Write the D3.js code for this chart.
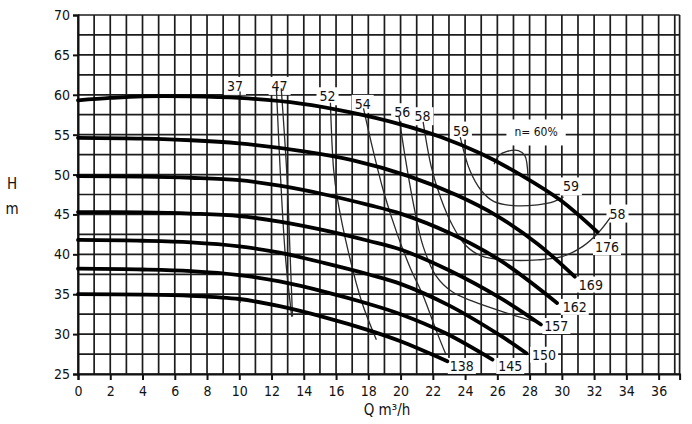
<!DOCTYPE html>
<html><head><meta charset="utf-8">
<script src="https://cdn.jsdelivr.net/npm/d3@7"></script>
<style>
html,body{margin:0;padding:0;background:#fff;}
svg{display:block;}
text{font-family:"DejaVu Sans Condensed","DejaVu Sans",sans-serif;fill:#111;}
</style></head><body>
<svg id="chart" width="692" height="424"></svg>
<script>
// ---- axis ticks ----
const qTicks = [0,2,4,6,8,10,12,14,16,18,20,22,24,26,28,30,32,34,36];
const hTicks = [25,30,35,40,45,50,55,60,65,70];

// ---- impeller diameter curves (Q m3/h, H m) ----
const diameters = ["176","169","162","157","150","145","138"];
const q176 = [0,2,4,7,10,13.8,16.9,20,22.5,25,27.5,29.9,32.2];
const h176 = [59.3,59.6,59.8,59.8,59.6,58.9,57.8,56.3,54.7,52.6,49.9,46.8,42.8];
const q169 = [0,4,7,10,14,17,20.5,23.5,26,28.5,30.8];
const h169 = [54.6,54.5,54.3,53.9,52.9,51.8,49.8,47.4,44.8,41.3,37.2];
const q162 = [0,4,7,10,12.5,15.3,18,20,23,26.2,29.7];
const h162 = [49.8,49.75,49.6,49.3,48.6,47.5,46.2,45.1,42.7,39.2,33.9];
const q157 = [0,4,7,10,12.5,15.3,18,20,23,26.2,28.7];
const h157 = [45.3,45.25,45.1,44.8,44.1,43.0,41.7,40.6,38.0,34.5,31.2];
const q150 = [0,4,7,10,12.5,15.3,18,20,23,26.2,27.8];
const h150 = [41.8,41.7,41.5,41.0,40.2,38.9,37.5,36.3,33.6,29.8,27.6];
const q145 = [0,4,7,10,12.5,15.3,18,20,22.8,25.7];
const h145 = [38.2,38.1,37.9,37.4,36.6,35.3,33.8,32.5,30.1,26.8];
const q138 = [0,4,7,10,12.5,15.3,18,20,22.9];
const h138 = [35.0,34.95,34.8,34.4,33.5,32.1,30.5,29.1,26.6];
const diameterQ = [q176,q169,q162,q157,q150,q145,q138];
const diameterH = [h176,h169,h162,h157,h150,h145,h138];
const diameterLabelQ = [32.8,31.8,30.8,29.66,28.9,26.8,23.8];
const diameterLabelH = [40.9,36.2,33.4,31.0,27.4,26.0,26.0];

// ---- efficiency contours ----
const qE37 = [10.05,10.05,10.05];            const hE37 = [60.4,47,33.9];
const qE47a = [12.3,12.55,12.85,13.25];      const hE47a = [60.8,50,40,32.2];
const qE47b = [12.6,12.95,13.15,13.3];       const hE47b = [60.8,50,40,32.2];
const qE52 = [15.65,15.85,16.1,16.8,17.6,18.5];  const hE52 = [59.0,50.6,46.8,40,34,29.3];
const qE54 = [17.7,18.3,19.0,19.8,20.6,21.4,22.2,22.8]; const hE54 = [58.3,53,47.5,42.5,38.3,34.8,30.5,27.5];
const qE56 = [19.9,20.3,20.8,21.4,22.2,23.2,24.5,26.5,28.6]; const hE56 = [57.3,52,46.3,41,37.3,35.3,34.1,32.7,31.4];
const qE58 = [21.4,21.9,22.5,23.2,24,25,26.5,28.5,30,31.3,32.3,33.0]; const hE58 = [56.6,51,47,43.7,41.2,39.8,39.3,39.3,39.7,41,42.8,44.6];
const qE59 = [23.7,24.3,25,25.8,27,28.5,29.5,30.1]; const hE59 = [54.7,50.5,48,46.6,46.1,46.2,46.6,47.2];
const qE60 = [25.8,26.1,26.6,27.3,27.7,27.9]; const hE60 = [51.3,52.4,52.9,53,52.4,49.6];
const effQ = [qE37,qE47a,qE47b,qE52,qE54,qE56,qE58,qE59,qE60];
const effH = [hE37,hE47a,hE47b,hE52,hE54,hE56,hE58,hE59,hE60];
const effLabels = ["37","47","52","54","56","58","59","n= 60%","59","58"];
const effLabelQ = [9.73,12.5,15.47,17.65,20.1,21.36,23.74,28.4,30.56,33.45];
const effLabelH = [61.1,61.1,59.8,58.85,57.8,57.3,55.5,55.3,48.5,45.1];

// ---- drawing ----
const svg = d3.select("#chart");
const x = d3.scaleLinear().domain([0, 37.3]).range([78, 679.6]);
const y = d3.scaleLinear().domain([25, 70]).range([374, 15]);

// grid
const grid = svg.append("g").attr("stroke","#1c1c1c").attr("stroke-width",1.7);
grid.selectAll("line.v").data(d3.range(0,38,1).concat([37.3])).join("line")
  .attr("x1",d=>x(d)).attr("x2",d=>x(d)).attr("y1",y(25)).attr("y2",y(70));
grid.selectAll("line.h").data(d3.range(25,70.1,2.5)).join("line")
  .attr("x1",x(0)).attr("x2",x(37.3)).attr("y1",d=>y(d)).attr("y2",d=>y(d));

// axes
const xAxis = svg.append("g").attr("transform",`translate(0,${y(25)})`)
  .call(d3.axisBottom(x).tickValues(qTicks).tickSize(6).tickPadding(6).tickFormat(d3.format("d")));
const yAxis = svg.append("g").attr("transform",`translate(${x(0)},0)`)
  .call(d3.axisLeft(y).tickValues(hTicks).tickSize(5).tickPadding(3).tickFormat(d3.format("d")));
[xAxis,yAxis].forEach(a=>{
  a.select(".domain").attr("stroke","#111").attr("stroke-width",2);
  a.selectAll(".tick line").attr("stroke","#111").attr("stroke-width",2);
  a.selectAll(".tick text").attr("font-size",14).attr("fill","#111")
   .attr("font-family",'"DejaVu Sans Condensed","DejaVu Sans",sans-serif');
});

// axis titles
svg.append("text").attr("x",12).attr("y",189).attr("text-anchor","middle").attr("font-size",15).text("H");
svg.append("text").attr("x",12).attr("y",214).attr("text-anchor","middle").attr("font-size",15).text("m");
svg.append("text").attr("x",387).attr("y",415).attr("text-anchor","middle").attr("font-size",15).text("Q m³/h");

// label layer (boxes inserted before text later)
const boxLayer = svg.append("g");

// efficiency contours
const effLine = d3.line().x(d=>x(d[0])).y(d=>y(d[1])).curve(d3.curveCatmullRom.alpha(0.5));
svg.append("g").selectAll("path").data(effQ.map((qs,i)=>qs.map((q,j)=>[q,effH[i][j]]))).join("path")
  .attr("d",effLine).attr("fill","none").attr("stroke","#2a2a2a").attr("stroke-width",1.3);

// diameter curves
const dLine = d3.line().x(d=>x(d[0])).y(d=>y(d[1])).curve(d3.curveCatmullRom.alpha(0.5));
svg.append("g").selectAll("path").data(diameterQ.map((qs,i)=>qs.map((q,j)=>[q,diameterH[i][j]]))).join("path")
  .attr("d",dLine).attr("fill","none").attr("stroke","#000").attr("stroke-width",3.8).attr("stroke-linecap","round");

// labels
const textLayer = svg.append("g");
function addLabel(t,q,h,fs,pad){
  const el = textLayer.append("text").attr("x",x(q)).attr("y",y(h)).attr("dy","0.35em")
    .attr("text-anchor","middle").attr("font-size",fs).text(t);
  const b = el.node().getBBox();
  boxLayer.append("rect").attr("x",b.x-pad[0]).attr("y",b.y-pad[1])
    .attr("width",b.width+2*pad[0]).attr("height",b.height+2*pad[1]).attr("fill","#fff");
}
effLabels.forEach((t,i)=>addLabel(t,effLabelQ[i],effLabelH[i],t.length>3?12:14,t.length>3?[8,6]:[3,1]));
diameters.forEach((t,i)=>addLabel(t,diameterLabelQ[i],diameterLabelH[i],14,[2,0]));
</script>
</body></html>
